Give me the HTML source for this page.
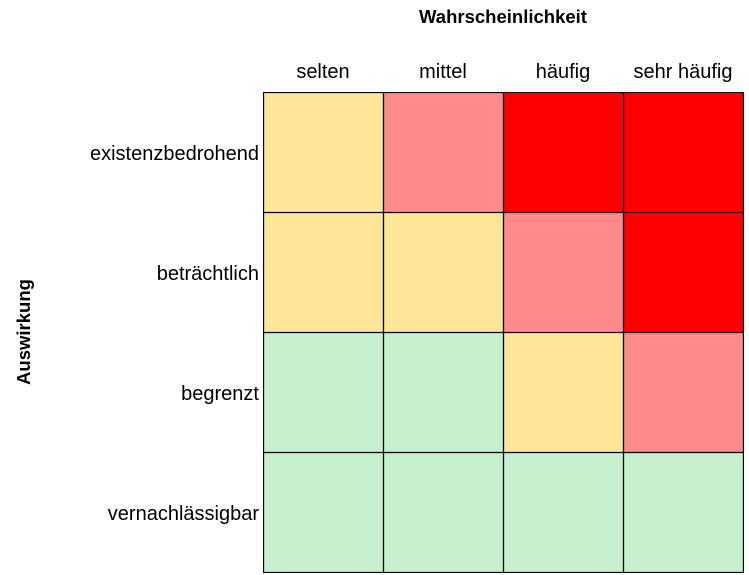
<!DOCTYPE html>
<html><head><meta charset="utf-8"><style>
body{margin:0;width:749px;height:575px;background:#fff;font-family:"Liberation Sans",sans-serif;color:#000;position:relative;overflow:hidden}
.t{position:absolute;font-size:20px;white-space:nowrap;line-height:24px}
</style></head><body>
<div class="t" style="left:0;width:1006px;text-align:center;top:5px;font-weight:bold;font-size:18.5px">Wahrscheinlichkeit</div>
<div class="t" style="left:263px;width:120px;text-align:center;top:60px">selten</div>
<div class="t" style="left:383px;width:120px;text-align:center;top:60px">mittel</div>
<div class="t" style="left:503px;width:120px;text-align:center;top:60px">häufig</div>
<div class="t" style="left:623px;width:120px;text-align:center;top:60px">sehr häufig</div>
<div class="t" style="right:490px;top:142px">existenzbedrohend</div>
<div class="t" style="right:490px;top:262px">beträchtlich</div>
<div class="t" style="right:490px;top:382px">begrenzt</div>
<div class="t" style="right:490px;top:502px">vernachlässigbar</div>
<div class="t" style="left:24px;top:332px;font-weight:bold;font-size:18.5px;transform:translate(-50%,-50%) rotate(-90deg)">Auswirkung</div>
<div style="position:absolute;left:263px;top:92px;width:481px;height:481px">
<svg width="481" height="481" style="position:absolute;left:0;top:0">
<rect x="0" y="0" width="120" height="120" fill="#FFE699"/><rect x="120" y="0" width="120" height="120" fill="#FF8B8B"/><rect x="240" y="0" width="120" height="120" fill="#FF0000"/><rect x="360" y="0" width="120" height="120" fill="#FF0000"/>
<rect x="0" y="120" width="120" height="120" fill="#FFE699"/><rect x="120" y="120" width="120" height="120" fill="#FFE699"/><rect x="240" y="120" width="120" height="120" fill="#FF8B8B"/><rect x="360" y="120" width="120" height="120" fill="#FF0000"/>
<rect x="0" y="240" width="120" height="120" fill="#C6EFCE"/><rect x="120" y="240" width="120" height="120" fill="#C6EFCE"/><rect x="240" y="240" width="120" height="120" fill="#FFE699"/><rect x="360" y="240" width="120" height="120" fill="#FF8B8B"/>
<rect x="0" y="360" width="480" height="120" fill="#C6EFCE"/>
<g stroke="#000" stroke-width="1.3">
<line x1="0.5" y1="0" x2="0.5" y2="481"/><line x1="120.5" y1="0" x2="120.5" y2="481"/><line x1="240.5" y1="0" x2="240.5" y2="481"/><line x1="360.5" y1="0" x2="360.5" y2="481"/><line x1="480.5" y1="0" x2="480.5" y2="481"/>
<line y1="0.5" x1="0" y2="0.5" x2="481"/><line y1="120.5" x1="0" y2="120.5" x2="481"/><line y1="240.5" x1="0" y2="240.5" x2="481"/><line y1="360.5" x1="0" y2="360.5" x2="481"/><line y1="480.5" x1="0" y2="480.5" x2="481"/>
</g></svg></div>
</body></html>
